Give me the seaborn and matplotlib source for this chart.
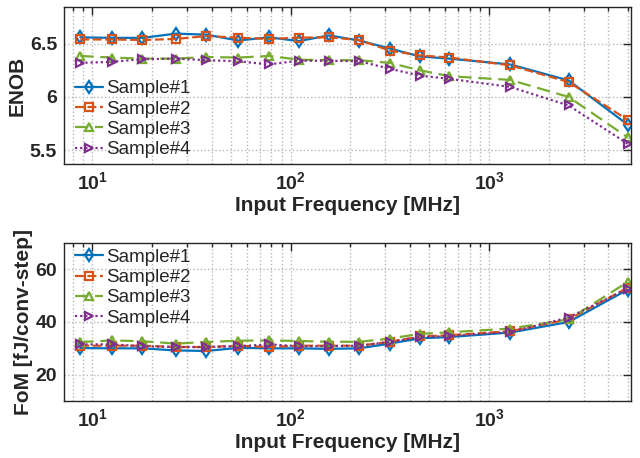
import numpy as np
import pandas as pd
import matplotlib
matplotlib.use("Agg")
import matplotlib.pyplot as plt
import seaborn as sns
from matplotlib.ticker import LogLocator, NullFormatter

# ---- data ----
freq_mhz = [8.7, 12.6, 17.9, 26.4, 37.6, 54.5, 77.7, 110, 156, 222, 316, 449, 632, 1280, 2520, 5000]
samples = ["Sample#1", "Sample#2", "Sample#3", "Sample#4"]

enob_s1 = [6.56, 6.555, 6.555, 6.595, 6.585, 6.53, 6.56, 6.525, 6.578, 6.53, 6.455, 6.38, 6.36, 6.305, 6.155, 5.74]
enob_s2 = [6.54, 6.54, 6.535, 6.545, 6.572, 6.557, 6.545, 6.557, 6.56, 6.535, 6.435, 6.39, 6.37, 6.297, 6.14, 5.785]
enob_s3 = [6.385, 6.37, 6.36, 6.36, 6.375, 6.37, 6.385, 6.35, 6.345, 6.345, 6.32, 6.25, 6.195, 6.16, 6.0, 5.62]
enob_s4 = [6.32, 6.33, 6.355, 6.36, 6.345, 6.335, 6.306, 6.34, 6.34, 6.335, 6.265, 6.2, 6.17, 6.094, 5.92, 5.56]

fom_s1 = [30.1, 30.0, 30.0, 29.2, 29.0, 30.2, 30.0, 30.0, 29.8, 30.0, 31.8, 33.8, 34.3, 36.0, 40.0, 52.3]
fom_s2 = [31.0, 31.0, 31.0, 30.5, 30.5, 31.0, 30.5, 31.0, 31.0, 31.0, 32.5, 34.5, 35.0, 36.5, 41.0, 53.0]
fom_s3 = [32.4, 33.0, 32.7, 31.8, 32.4, 32.9, 33.0, 32.8, 32.5, 32.5, 33.7, 35.5, 36.1, 37.5, 41.0, 55.2]
fom_s4 = [31.5, 31.5, 30.8, 30.5, 30.5, 30.8, 31.5, 30.8, 30.8, 31.0, 32.4, 34.3, 34.7, 36.2, 41.7, 52.7]

enob_all = [enob_s1, enob_s2, enob_s3, enob_s4]
fom_all = [fom_s1, fom_s2, fom_s3, fom_s4]

colors = ["#0072BD", "#D95319", "#77AC30", "#7E2F8E"]
markers = ["d", "s", "^", ">"]
styles = ["-", (0, (4, 1.6)), (0, (6, 3)), (0, (1, 1.3))]

sns.set_style("white")
plt.rcParams["font.family"] = ["Liberation Sans", "DejaVu Sans"]
plt.rcParams["mathtext.fontset"] = "custom"
plt.rcParams["mathtext.rm"] = "Liberation Sans:bold"
plt.rcParams["mathtext.bf"] = "Liberation Sans:bold"
plt.rcParams["mathtext.default"] = "bf"

fig = plt.figure(figsize=(6.4, 4.58), dpi=100)
ax1 = fig.add_axes([0.1, 1 - 164 / 458, 0.886, 157 / 458])
ax2 = fig.add_axes([0.1, 1 - 401 / 458, 0.886, 158 / 458])

for ax, data, ylabel in [(ax1, enob_all, "ENOB"), (ax2, fom_all, "FoM [fJ/conv-step]")]:
    for i, name in enumerate(samples):
        df = pd.DataFrame({"freq": freq_mhz, "val": data[i]})
        sns.lineplot(data=df, x="freq", y="val", ax=ax, color=colors[i],
                     marker=markers[i], linestyle=styles[i], linewidth=1.6,
                     markersize=6, markeredgecolor=colors[i], markerfacecolor="none",
                     markeredgewidth=1.6, label=name, errorbar=None)
    ax.set_xscale("log")
    ax.set_xlim(7.2, 5200)
    ax.xaxis.set_major_locator(LogLocator(base=10, numticks=10))
    ax.xaxis.set_minor_locator(LogLocator(base=10, subs=np.arange(2, 10), numticks=50))
    ax.xaxis.set_minor_formatter(NullFormatter())
    ax.grid(True, which="major", axis="both", linestyle=":", color="#b8b8b8", linewidth=1.0)
    ax.grid(True, which="minor", axis="x", linestyle=":", color="#b8b8b8", linewidth=1.0)
    ax.tick_params(which="both", direction="in", top=True, right=True, labelsize=14,
                   width=1.0, color="#262626")
    ax.tick_params(which="major", length=6, pad=5)
    ax.tick_params(which="minor", length=3)
    for sp in ax.spines.values():
        sp.set_linewidth(1.0)
        sp.set_color("#262626")
        sp.set_visible(True)
    ax.set_xlabel("Input Frequency [MHz]", fontsize=15, fontweight="bold", labelpad=2)
    ax.set_ylabel(ylabel, fontsize=15, fontweight="bold", labelpad=2)

ax1.set_ylim(5.37, 6.845)
ax1.set_yticks([5.5, 6.0, 6.5])
ax1.set_yticklabels(["5.5", "6", "6.5"])
ax2.set_ylim(10, 70)
ax2.set_yticks([20, 40, 60])

leg_kw = dict(frameon=False, fontsize=13.5, handlelength=1.5, handletextpad=0.15,
              labelspacing=0.17, borderaxespad=0.2)
ax1.legend(loc="lower left", bbox_to_anchor=(0.0, -0.035), **leg_kw)
ax2.legend(loc="upper left", bbox_to_anchor=(0.0, 1.035), **leg_kw)

for ax in (ax1, ax2):
    for lab in ax.get_xticklabels() + ax.get_yticklabels():
        lab.set_fontweight("bold")

fig.savefig("out.png", dpi=100)
